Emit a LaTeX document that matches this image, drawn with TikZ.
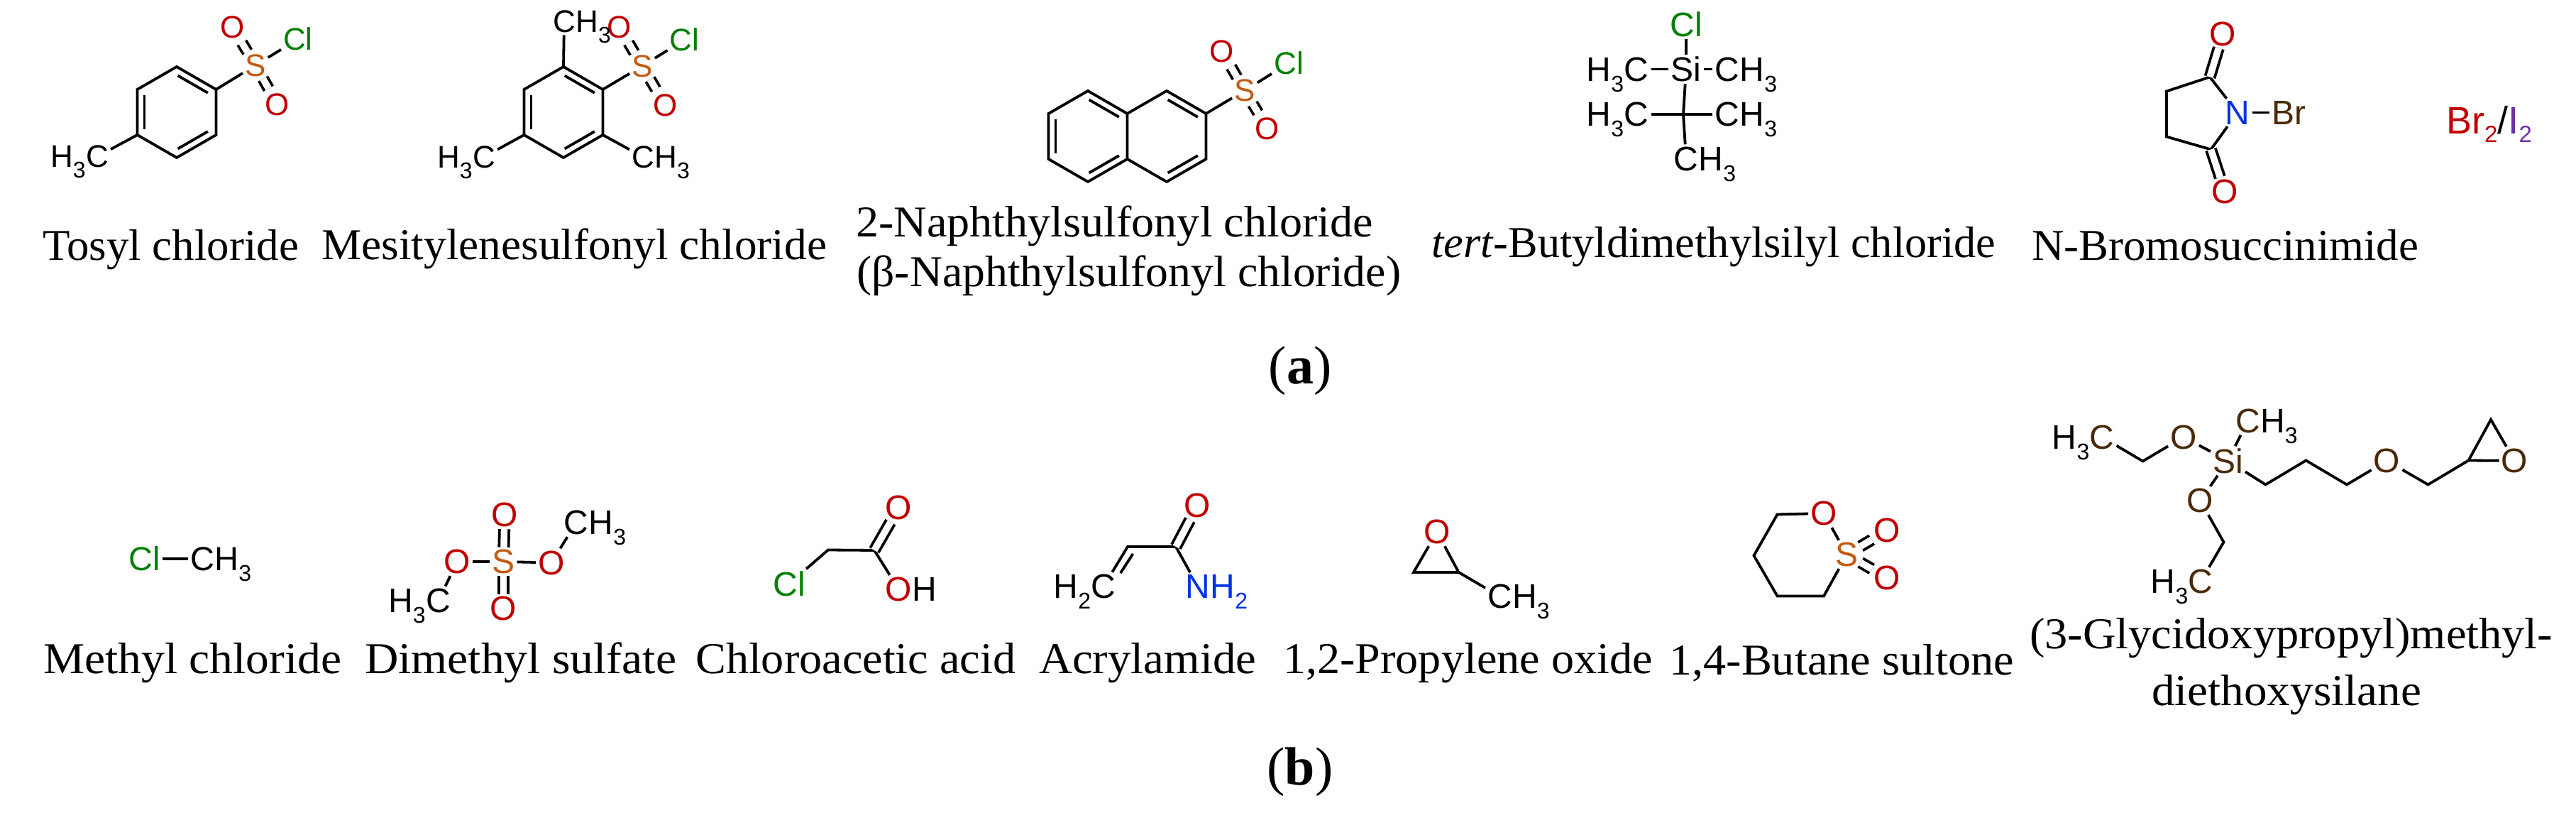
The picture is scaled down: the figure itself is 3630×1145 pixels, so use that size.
\documentclass[tikz,border=0pt]{standalone}
\usepackage{fontspec}
\setmainfont{Liberation Serif}
\setsansfont{Liberation Sans}
\usetikzlibrary{calc}
\definecolor{oxy}{HTML}{C00000}
\definecolor{sul}{HTML}{C55A11}
\definecolor{chl}{HTML}{008000}
\definecolor{nit}{HTML}{0033E6}
\definecolor{brn}{HTML}{4A2A08}
\definecolor{iod}{HTML}{7030A0}
\newcommand\sz[1]{\fontsize{#1}{#1}\selectfont}
\newcommand\ssb[1]{\raisebox{-15pt}{\smash{\sz{32}#1}}}
\newcommand\lab[2]{\resizebox{#1pt}{\height}{#2}}
\def\csz{44}
\tikzset{
  atom/.style={inner sep=3pt,font=\sz{\csz}\sffamily},
  tailr/.style={atom,anchor=base west,inner sep=0pt,xshift=-3pt},
  taill/.style={atom,anchor=base east,inner sep=0pt,xshift=3pt},
  oxa/.style={atom,text=oxy},
  sua/.style={atom,text=sul},
  cla/.style={atom,text=chl},
  bra/.style={atom,text=brn},
  bond/.style={line width=3.8pt,line join=miter,line cap=butt},
  dbl/.style={bond,double,double distance=9.5pt},
  tlabel/.style={inner sep=0pt,anchor=base west,font=\sz{62}\rmfamily},
  capt/.style={inner sep=0pt,anchor=base,font=\sz{76}\rmfamily},
}
\newcommand\hexring[3]{%
  \coordinate (#1a) at (#2,#3-64);
  \coordinate (#1b) at (#2+55.5,#3-32);
  \coordinate (#1c) at (#2+55.5,#3+32);
  \coordinate (#1d) at (#2,#3+64);
  \coordinate (#1e) at (#2-55.5,#3+32);
  \coordinate (#1f) at (#2-55.5,#3-32);
}
\newcommand\inb[2]{\draw[bond] ($(#1)!.12!(#2)!10pt!-90:(#2)$) -- ($(#2)!.12!(#1)!10pt!90:(#1)$);}
\begin{document}
\begin{tikzpicture}[x=1pt,y=-1pt]
\useasboundingbox (0,0) rectangle (3630,1145);

%% Tosyl chloride
\hexring{t}{249}{158}
\draw[bond] (ta)--(tb)--(tc)--(td)--(te)--(tf)--cycle;
\inb{ta}{tb}\inb{tc}{td}\inb{te}{tf}
\node[sua] (tS) at (360,92) {S};
\node[oxa] (tO1) at (327.5,38) {O};
\node[oxa] (tO2) at (391,147) {O};
\node[cla] (tCl) at (420,55) {Cl};
\node[atom] (tMe) at (137,220.5) {C};
\node[taill] (tMeH) at (tMe.base west) {H\ssb{3}};
\draw[bond] (tb)--(tS);
\draw[bond] (tS)--(tCl);
\draw[dbl,shorten >=4pt] (tS)--(tO1);
\draw[dbl,shorten >=4pt] (tS)--(tO2);
\draw[bond] (te)--(tMe);

%% Mesitylenesulfonyl chloride
\hexring{m}{794}{158}
\draw[bond] (ma)--(mb)--(mc)--(md)--(me)--(mf)--cycle;
\inb{ma}{mb}\inb{mc}{md}\inb{me}{mf}
\node[sua] (mS) at (905,93) {S};
\node[oxa] (mO1) at (872.5,38) {O};
\node[oxa] (mO2) at (937.5,148) {O};
\node[cla] (mCl) at (964.5,56) {Cl};
\node[atom] (mMa) at (795,30.5) {C};
\node[tailr] (mMaH) at (mMa.base east) {H\ssb{3}};
\node[atom] (mMb) at (682,221) {C};
\node[taill] (mMbH) at (mMb.base west) {H\ssb{3}};
\node[atom] (mMc) at (906,221) {C};
\node[tailr] (mMcH) at (mMc.base east) {H\ssb{3}};
\draw[bond] (ma)--(mMa);
\draw[bond] (me)--(mMb);
\draw[bond] (mc)--(mMc);
\draw[bond] (mb)--(mS);
\draw[bond] (mS)--(mCl);
\draw[dbl,shorten >=4pt] (mS)--(mO1);
\draw[dbl,shorten >=4pt] (mS)--(mO2);

%% 2-Naphthylsulfonyl chloride
\hexring{n}{1533}{192}
\hexring{p}{1644}{192}
\draw[bond] (na)--(nb)--(nc)--(nd)--(ne)--(nf)--cycle;
\draw[bond] (nb)--(pa)--(pb)--(pc)--(pd)--(nc);
\inb{na}{nb}\inb{nc}{nd}\inb{ne}{nf}\inb{pa}{pb}\inb{pc}{pd}
\node[sua] (nS) at (1754,127.5) {S};
\node[oxa] (nO1) at (1722,72) {O};
\node[oxa] (nO2) at (1786,181) {O};
\node[cla] (nCl) at (1816,89) {Cl};
\draw[bond] (pb)--(nS);
\draw[bond] (nS)--(nCl);
\draw[dbl,shorten >=4pt] (nS)--(nO1);
\draw[dbl,shorten >=4pt] (nS)--(nO2);

\def\csz{48}
%% tert-Butyldimethylsilyl chloride
\coordinate (bC) at (2372,161);
\node[cla] (bCl) at (2376,34.5) {Cl};
\node[atom] (bSi) at (2376,97.5) {Si};
\node[atom] (bM1) at (2306,97.5) {C};
\node[taill] (bM1H) at (bM1.base west) {H\ssb{3}};
\node[atom] (bM2) at (2434,97.5) {C};
\node[tailr] (bM2H) at (bM2.base east) {H\ssb{3}};
\node[atom] (bM3) at (2306,161) {C};
\node[taill] (bM3H) at (bM3.base west) {H\ssb{3}};
\node[atom] (bM4) at (2434,161) {C};
\node[tailr] (bM4H) at (bM4.base east) {H\ssb{3}};
\node[atom] (bM5) at (2376,223.5) {C};
\node[tailr] (bM5H) at (bM5.base east) {H\ssb{3}};
\draw[bond] (bCl)--(bSi);
\draw[bond] (bSi)--(bM1);
\draw[bond] (bSi)--(bM2);
\draw[bond] (bSi)--(bC);
\draw[bond] (bC)--(bM3);
\draw[bond] (bC)--(bM4);
\draw[bond] (bC)--(bM5);

%% N-Bromosuccinimide
\coordinate (sA) at (3114,108.5);
\coordinate (sB) at (3053,128.5);
\coordinate (sC) at (3053,192.5);
\coordinate (sD) at (3115.5,210.5);
\node[atom,text=nit] (sN) at (3153,158.5) {N};
\node[bra] (sBr) at (3225.5,158.5) {Br};
\node[oxa] (sO1) at (3132.5,47.5) {O};
\node[oxa] (sO2) at (3135,270) {O};
\draw[bond] (sN)--(sA)--(sB)--(sC)--(sD)--(sN);
\draw[bond] (sN)--(sBr);
\draw[dbl] (sA)--(sO1);
\draw[dbl] (sD)--(sO2);

%% Br2/I2
\node[inner sep=0pt,anchor=base west,font=\sz{54}\sffamily] (hal) at (3447,188.5)
  {\textcolor{oxy}{Br\raisebox{-12pt}{\sz{33}2}}/\textcolor{iod}{I\raisebox{-12pt}{\sz{33}2}}};

%% Methyl chloride
\def\csz{47}
\node[cla] (cCl) at (204,787) {Cl};
\node[atom] (cMe) at (285,787) {C};
\node[tailr] (cMeH) at (cMe.base east) {H\ssb{3}};
\draw[bond] (cCl)--(cMe);

\def\csz{48}
%% Dimethyl sulfate
\node[sua] (dS) at (709.5,791) {S};
\node[oxa] (dOt) at (711,725) {O};
\node[oxa] (dOb) at (709.5,857) {O};
\node[oxa] (dOl) at (644.5,791) {O};
\node[oxa] (dOr) at (777,792.5) {O};
\node[atom] (dM1) at (812,736) {C};
\node[tailr] (dM1H) at (dM1.base east) {H\ssb{3}};
\node[atom] (dM2) at (617.5,846) {C};
\node[taill] (dM2H) at (dM2.base west) {H\ssb{3}};
\draw[dbl] (dS)--(dOt);
\draw[dbl] (dS)--(dOb);
\draw[bond] (dOl)--(dS);
\draw[bond] (dS)--(dOr);
\draw[bond] (dOr)--(dM1);
\draw[bond] (dOl)--(dM2);

%% Chloroacetic acid
\coordinate (aA) at (1167,774.5);
\coordinate (aB) at (1232,775);
\node[cla] (aCl) at (1112,822) {Cl};
\node[oxa] (aO) at (1266.5,715) {O};
\node[oxa] (aOH) at (1266.5,830) {O};
\node[tailr] (aH) at (aOH.base east) {H};
\draw[bond] (aCl)--(aA)--(aB)--(aOH);
\draw[dbl] (aB)--(aO);

%% Acrylamide
\coordinate (rA) at (1589,770);
\coordinate (rB) at (1657,770);
\coordinate (rI1) at (1579,807);
\coordinate (rI2) at (1596.5,780);
\node[atom] (rC) at (1555,826) {C};
\node[taill] (rCH) at (rC.base west) {H\ssb{2}};
\node[atom,text=nit] (rN) at (1688,826) {N};
\node[tailr,text=nit] (rNH) at (rN.base east) {H\ssb{2}};
\node[oxa] (rO) at (1687.5,712) {O};
\draw[bond] (rC)--(rA)--(rB)--(rN);
\draw[bond] (rI1)--(rI2);
\draw[dbl] (rB)--(rO);

%% 1,2-Propylene oxide
\coordinate (oL) at (1992,806);
\coordinate (oR) at (2055.5,806);
\node[oxa] (oO) at (2025,749) {O};
\node[atom] (oM) at (2113.5,840) {C};
\node[tailr] (oMH) at (oM.base east) {H\ssb{3}};
\draw[bond] (oO)--(oL)--(oR)--(oO);
\draw[bond] (oR)--(oM);

%% 1,4-Butane sultone
\coordinate (uA) at (2504.5,724.5);
\coordinate (uB) at (2471.5,782.5);
\coordinate (uC) at (2504.5,839.5);
\coordinate (uD) at (2570,839.5);
\node[oxa] (uO) at (2570,723) {O};
\node[sua] (uS) at (2602.5,781) {S};
\node[oxa] (uO1) at (2659.5,747) {O};
\node[oxa] (uO2) at (2659.5,814) {O};
\draw[bond] (uO)--(uA)--(uB)--(uC)--(uD)--(uS)--(uO);
\draw[dbl] (uS)--(uO1);
\draw[dbl] (uS)--(uO2);

%% (3-Glycidoxypropyl)methyldiethoxysilane
\coordinate (gE1) at (3019.5,649.5);
\coordinate (gE2) at (3133.5,763.5);
\coordinate (gV1) at (3192.5,682.5);
\coordinate (gV2) at (3249.5,648.5);
\coordinate (gV3) at (3307,682.5);
\coordinate (gV4) at (3421.5,682.5);
\coordinate (gV5) at (3478.5,648.5);
\coordinate (gV6) at (3510,591);
\node[bra] (gC1) at (2962,615.5) {C};
\node[taill] (gC1H) at (gC1.base west) {H\ssb{3}};
\node[bra] (gO1) at (3077,615.5) {O};
\node[bra] (gSi) at (3139.5,649) {Si};
\node[bra] (gC2) at (3167.5,592.5) {C};
\node[tailr] (gC2H) at (gC2.base east) {H\ssb{3}};
\node[bra] (gO2) at (3100.5,705) {O};
\node[bra] (gC3) at (3101,819) {C};
\node[taill] (gC3H) at (gC3.base west) {H\ssb{3}};
\node[bra] (gO3) at (3363.5,649) {O};
\node[bra] (gO4) at (3543.5,649) {O};
\draw[bond] (gC1)--(gE1)--(gO1)--(gSi)--(gC2);
\draw[bond] (gSi)--(gO2)--(gE2)--(gC3);
\draw[bond] (gSi)--(gV1)--(gV2)--(gV3)--(gO3)--(gV4)--(gV5)--(gO4)--(gV6)--(gV5);

%% Labels
\node[tlabel] (l1) at (60,366) {\lab{361}{Tosyl chloride}};
\node[tlabel] (l2) at (453,365) {\lab{712}{Mesitylenesulfonyl chloride}};
\node[tlabel] (l3) at (1206,333) {\lab{729}{2-Naphthylsulfonyl chloride}};
\node[tlabel] (l3b) at (1207,403) {\lab{767}{(β-Naphthylsulfonyl chloride)}};
\node[tlabel] (l4) at (2017,362) {\lab{795}{\textit{tert}-Butyldimethylsilyl chloride}};
\node[tlabel] (l5) at (2863,366) {\lab{545}{N-Bromosuccinimide}};
\node[capt] (ca) at (1832,540) {(\textbf{a})};
\node[tlabel] (l6) at (61,948) {\lab{420}{Methyl chloride}};
\node[tlabel] (l7) at (514,948) {\lab{439}{Dimethyl sulfate}};
\node[tlabel] (l8) at (980,948) {\lab{451}{Chloroacetic acid}};
\node[tlabel] (l9) at (1464,948) {\lab{306}{Acrylamide}};
\node[tlabel] (l10) at (1808,948) {\lab{520.5}{1,2-Propylene oxide}};
\node[tlabel] (l11) at (2352,950) {\lab{486}{1,4-Butane sultone}};
\node[tlabel] (l12) at (2860,913) {\lab{737}{(3-Glycidoxypropyl)methyl-}};
\node[tlabel,anchor=base] (l12b) at (3222,993) {\lab{380}{diethoxysilane}};
\node[capt] (cb) at (1832,1105) {(\textbf{b})};
\end{tikzpicture}
\end{document}
